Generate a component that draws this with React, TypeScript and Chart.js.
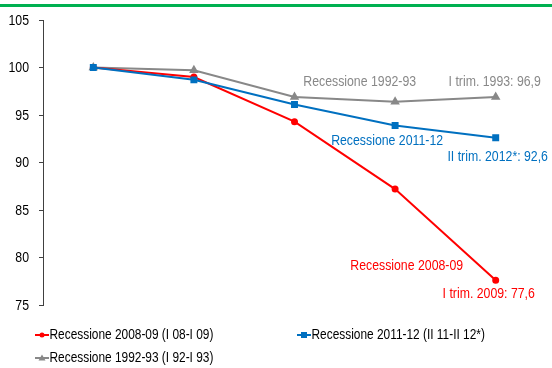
import React, { useEffect, useRef } from "react";
import { Chart, registerables } from "chart.js";

Chart.register(...registerables);

// Quarters from the start of each recession (t0 = 100)
const quarters = ["t0", "t+1", "t+2", "t+3", "t+4"];

const rec2008 = [100, 99.0, 94.3, 87.2, 77.6];
const rec2011 = [100, 98.7, 96.1, 93.9, 92.6];
const rec1992 = [100, 99.7, 96.9, 96.4, 96.9];

const seriesNames = [
  "Recessione 2008-09 (I 08-I 09)",
  "Recessione 2011-12 (II 11-II 12*)",
  "Recessione 1992-93 (I 92-I 93)",
];

const yMin = 75;
const yMax = 105;
const yStep = 5;

const RED = "#ff0000";
const BLUE = "#0070c0";
const GRAY = "#888888";
const FONT = "'Liberation Sans', Arial, sans-serif";
// condensed look: glyphs are squeezed horizontally
const SQUEEZE = 0.82;

// Callout texts attached to points: dataset, point index, pixel offset of the text centre
const callouts = [
  { ds: 2, idx: 4, text: "Recessione 1992-93", dx: -136, dy: -15, color: GRAY },
  { ds: 2, idx: 4, text: "I trim. 1993: 96,9", dx: -1, dy: -15, color: GRAY },
  { ds: 1, idx: 3, text: "Recessione 2011-12", dx: -8, dy: 15, color: BLUE },
  { ds: 1, idx: 4, text: "II trim. 2012*: 92,6", dx: 2, dy: 19, color: BLUE },
  { ds: 0, idx: 4, text: "Recessione 2008-09", dx: -89, dy: -14, color: RED },
  { ds: 0, idx: 4, text: "I trim. 2009: 77,6", dx: -7, dy: 14, color: RED },
];

// Legend entry anchors (left of the key line, vertical middle)
const legendSlots = [
  { x: 35, y: 335 },
  { x: 297, y: 335 },
  { x: 35, y: 358 },
];

function squeezedText(ctx: any, text: string, x: number, y: number, align: string) {
  ctx.save();
  ctx.translate(x, y);
  ctx.scale(SQUEEZE, 1);
  ctx.textAlign = align;
  ctx.fillText(text, 0, 0);
  ctx.restore();
}

const tickLabelPlugin = {
  id: "tickLabels",
  afterDraw(chart: any) {
    const { ctx } = chart;
    const y = chart.scales.y;
    ctx.save();
    ctx.font = `15px ${FONT}`;
    ctx.textBaseline = "middle";
    ctx.fillStyle = "#000000";
    for (const t of y.ticks) {
      squeezedText(ctx, String(t.value), y.right - 14, y.getPixelForValue(t.value) + 0.5, "right");
    }
    ctx.restore();
  },
};

const calloutPlugin = {
  id: "callouts",
  afterDatasetsDraw(chart: any) {
    const { ctx } = chart;
    ctx.save();
    ctx.font = `15px ${FONT}`;
    ctx.textBaseline = "middle";
    for (const c of callouts) {
      const el = chart.getDatasetMeta(c.ds).data[c.idx];
      ctx.fillStyle = c.color;
      squeezedText(ctx, c.text, el.x + c.dx, el.y + c.dy, "center");
    }
    ctx.restore();
  },
};

const legendPlugin = {
  id: "sideLegend",
  afterDraw(chart: any) {
    const { ctx } = chart;
    ctx.save();
    ctx.font = `14.5px ${FONT}`;
    ctx.textBaseline = "middle";
    chart.data.datasets.forEach((ds: any, i: number) => {
      const s = legendSlots[i];
      ctx.strokeStyle = ds.borderColor;
      ctx.lineWidth = 2;
      ctx.beginPath();
      ctx.moveTo(s.x, s.y);
      ctx.lineTo(s.x + 14, s.y);
      ctx.stroke();
      ctx.fillStyle = ds.pointBackgroundColor;
      const cx = s.x + 7;
      if (ds.pointStyle === "rect") {
        ctx.fillRect(cx - 3, s.y - 3, 6, 6);
      } else if (ds.pointStyle === "triangle") {
        ctx.beginPath();
        ctx.moveTo(cx, s.y - 3.5);
        ctx.lineTo(cx + 3.5, s.y + 2.5);
        ctx.lineTo(cx - 3.5, s.y + 2.5);
        ctx.closePath();
        ctx.fill();
      } else {
        ctx.beginPath();
        ctx.arc(cx, s.y, 2.5, 0, Math.PI * 2);
        ctx.fill();
      }
      ctx.fillStyle = "#000000";
      squeezedText(ctx, seriesNames[i], s.x + 14.5, s.y, "left");
    });
    ctx.restore();
  },
};

export default function App() {
  const ref = useRef<HTMLCanvasElement | null>(null);

  useEffect(() => {
    if (!ref.current) return;
    const chart = new Chart(ref.current, {
      type: "line",
      data: {
        labels: quarters,
        datasets: [
          {
            label: seriesNames[0],
            data: rec2008,
            borderColor: RED,
            backgroundColor: RED,
            pointBackgroundColor: RED,
            pointBorderColor: RED,
            pointStyle: "circle",
            pointRadius: 2.5,
            borderWidth: 2,
            tension: 0,
            order: 2,
          },
          {
            label: seriesNames[1],
            data: rec2011,
            borderColor: BLUE,
            backgroundColor: BLUE,
            pointBackgroundColor: BLUE,
            pointBorderColor: BLUE,
            pointStyle: "rect",
            pointRadius: 3.5,
            borderWidth: 2,
            tension: 0,
            order: 1,
          },
          {
            label: seriesNames[2],
            data: rec1992,
            borderColor: GRAY,
            backgroundColor: GRAY,
            pointBackgroundColor: GRAY,
            pointBorderColor: GRAY,
            pointStyle: "triangle",
            pointRadius: 3.5,
            borderWidth: 2,
            tension: 0,
            order: 3,
          },
        ],
      },
      options: {
        animation: false,
        responsive: false,
        maintainAspectRatio: false,
        layout: { padding: { top: 20, bottom: 63, left: 0, right: 2 } },
        plugins: {
          legend: { display: false },
          tooltip: { enabled: false },
        },
        scales: {
          x: {
            type: "category",
            display: false,
            offset: true,
          },
          y: {
            min: yMin,
            max: yMax,
            ticks: {
              stepSize: yStep,
              display: false,
            },
            grid: {
              drawOnChartArea: false,
              drawTicks: true,
              tickLength: 4,
              color: "#404040",
            },
            border: { display: true, color: "#404040", width: 1 },
            afterFit(scale: any) {
              scale.width = 43;
            },
          },
        },
      },
      plugins: [calloutPlugin, legendPlugin, tickLabelPlugin],
    });
    return () => chart.destroy();
  }, []);

  return (
    <div style={{ position: "absolute", left: 0, top: 0, width: 552, height: 368, background: "#ffffff" }}>
      <div style={{ position: "absolute", left: 0, top: 4, width: 552, height: 3, background: "#00b050" }} />
      <canvas ref={ref} width={552} height={368} style={{ position: "absolute", left: 0, top: 0 }} />
    </div>
  );
}
